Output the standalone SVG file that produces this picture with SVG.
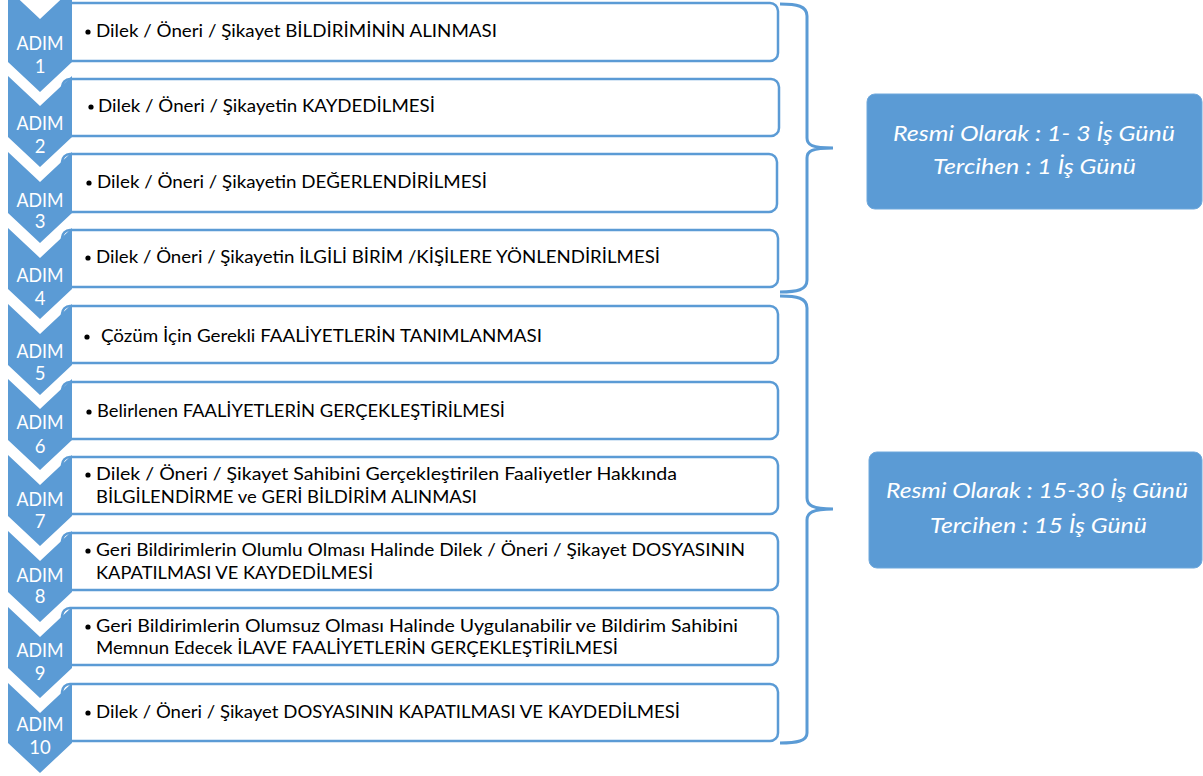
<svg xmlns="http://www.w3.org/2000/svg" width="1203" height="776" viewBox="0 0 1203 776">
<defs>
<style>
.box{fill:#ffffff;stroke:#5B9BD5;stroke-width:2.5}
.chev{fill:#5B9BD5;stroke:none}
.adim{font-family:Lato,"Liberation Sans",sans-serif;font-size:18.5px;fill:#ffffff;text-anchor:middle}
.t{font-family:Lato,"Liberation Sans",sans-serif;font-size:17px;fill:#000000}
.bul{fill:#000000}
.brace{fill:none;stroke:#5B9BD5;stroke-width:3;stroke-linejoin:miter}
.info{fill:#5B9BD5;stroke:#6FA8DC;stroke-width:1}
.it{font-family:Lato,"Liberation Sans",sans-serif;font-size:21.5px;font-style:italic;fill:#ffffff}
</style>
</defs>
<rect width="1203" height="776" fill="#ffffff"/>

<g id="connectors">
<path class="brace" d="M780,4 C797,4 807,6 807,16 L807,138 C807,145 812,148 833,148 C812,148 807,151 807,158 L807,280 C807,290 797,292 780,292"/>
<path class="brace" d="M780,296 C797,296 807,298 807,308 L807,498 C807,505 812,509 833,509 C812,509 807,513 807,520 L807,733 C807,741 797,743 780,743"/>
</g>

<g id="step1">
<rect class="box" x="62" y="3" width="716" height="58" rx="8"/>
<path class="chev" d="M8,-11 L40,19 L72,-11 L72,62 L40,92 L8,62 Z"/>
<text class="adim" x="40" y="50" textLength="47" lengthAdjust="spacingAndGlyphs">ADIM</text>
<text class="adim" x="40" y="73">1</text>
<circle class="bul" cx="88" cy="32" r="2.6"/>
<text class="t" x="96" y="37" textLength="401" lengthAdjust="spacingAndGlyphs">Dilek / Öneri / Şikayet BİLDİRİMİNİN ALINMASI</text>
</g>

<g id="step2">
<rect class="box" x="62" y="79" width="717" height="57" rx="8"/>
<path class="chev" d="M8,76 L40,106 L72,76 L72,137 L40,167 L8,137 Z"/>
<text class="adim" x="40" y="130" textLength="47" lengthAdjust="spacingAndGlyphs">ADIM</text>
<text class="adim" x="40" y="153">2</text>
<circle class="bul" cx="91" cy="107" r="2.6"/>
<text class="t" x="98" y="112" textLength="337" lengthAdjust="spacingAndGlyphs">Dilek / Öneri / Şikayetin KAYDEDİLMESİ</text>
</g>

<g id="step3">
<rect class="box" x="62" y="154" width="715" height="58" rx="8"/>
<path class="chev" d="M8,152 L40,182 L72,152 L72,213 L40,243 L8,213 Z"/>
<text class="adim" x="40" y="207" textLength="47" lengthAdjust="spacingAndGlyphs">ADIM</text>
<text class="adim" x="40" y="228">3</text>
<circle class="bul" cx="89" cy="183" r="2.6"/>
<text class="t" x="97" y="188" textLength="390" lengthAdjust="spacingAndGlyphs">Dilek / Öneri / Şikayetin DEĞERLENDİRİLMESİ</text>
</g>

<g id="step4">
<rect class="box" x="62" y="230" width="716" height="57" rx="8"/>
<path class="chev" d="M8,228 L40,258 L72,228 L72,289 L40,319 L8,289 Z"/>
<text class="adim" x="40" y="282" textLength="47" lengthAdjust="spacingAndGlyphs">ADIM</text>
<text class="adim" x="40" y="305">4</text>
<circle class="bul" cx="88" cy="258" r="2.6"/>
<text class="t" x="96" y="263" textLength="564" lengthAdjust="spacingAndGlyphs">Dilek / Öneri / Şikayetin İLGİLİ BİRİM /KİŞİLERE YÖNLENDİRİLMESİ</text>
</g>

<g id="step5">
<rect class="box" x="62" y="306" width="716" height="57" rx="8"/>
<path class="chev" d="M8,304 L40,334 L72,304 L72,365 L40,395 L8,365 Z"/>
<text class="adim" x="40" y="358" textLength="47" lengthAdjust="spacingAndGlyphs">ADIM</text>
<text class="adim" x="40" y="380">5</text>
<circle class="bul" cx="87" cy="337" r="2.6"/>
<text class="t" x="101" y="342" textLength="441" lengthAdjust="spacingAndGlyphs">Çözüm İçin Gerekli FAALİYETLERİN TANIMLANMASI</text>
</g>

<g id="step6">
<rect class="box" x="62" y="382" width="716" height="57" rx="8"/>
<path class="chev" d="M8,379 L40,409 L72,379 L72,440 L40,470 L8,440 Z"/>
<text class="adim" x="40" y="429" textLength="47" lengthAdjust="spacingAndGlyphs">ADIM</text>
<text class="adim" x="40" y="453">6</text>
<circle class="bul" cx="89" cy="412" r="2.6"/>
<text class="t" x="97" y="417" textLength="408" lengthAdjust="spacingAndGlyphs">Belirlenen FAALİYETLERİN GERÇEKLEŞTİRİLMESİ</text>
</g>

<g id="step7">
<rect class="box" x="62" y="457" width="716" height="57" rx="8"/>
<path class="chev" d="M8,455 L40,485 L72,455 L72,516 L40,546 L8,516 Z"/>
<text class="adim" x="40" y="506" textLength="47" lengthAdjust="spacingAndGlyphs">ADIM</text>
<text class="adim" x="40" y="528">7</text>
<circle class="bul" cx="88" cy="475" r="2.6"/>
<text class="t" x="96" y="480" textLength="581" lengthAdjust="spacingAndGlyphs">Dilek / Öneri / Şikayet Sahibini Gerçekleştirilen Faaliyetler Hakkında</text>
<text class="t" x="96" y="503" textLength="381" lengthAdjust="spacingAndGlyphs">BİLGİLENDİRME ve GERİ BİLDİRİM ALINMASI</text>
</g>

<g id="step8">
<rect class="box" x="62" y="533" width="716" height="57" rx="8"/>
<path class="chev" d="M8,531 L40,561 L72,531 L72,592 L40,622 L8,592 Z"/>
<text class="adim" x="40" y="582" textLength="47" lengthAdjust="spacingAndGlyphs">ADIM</text>
<text class="adim" x="40" y="603">8</text>
<circle class="bul" cx="88" cy="551" r="2.6"/>
<text class="t" x="96" y="556" textLength="649" lengthAdjust="spacingAndGlyphs">Geri Bildirimlerin Olumlu Olması Halinde Dilek / Öneri / Şikayet DOSYASININ</text>
<text class="t" x="96" y="579" textLength="277" lengthAdjust="spacingAndGlyphs">KAPATILMASI VE KAYDEDİLMESİ</text>
</g>

<g id="step9">
<rect class="box" x="62" y="608" width="716" height="57" rx="8"/>
<path class="chev" d="M8,607 L40,637 L72,607 L72,668 L40,698 L8,668 Z"/>
<text class="adim" x="40" y="657" textLength="47" lengthAdjust="spacingAndGlyphs">ADIM</text>
<text class="adim" x="40" y="680">9</text>
<circle class="bul" cx="88" cy="627" r="2.6"/>
<text class="t" x="96" y="632" textLength="642" lengthAdjust="spacingAndGlyphs">Geri Bildirimlerin Olumsuz Olması Halinde Uygulanabilir ve Bildirim Sahibini</text>
<text class="t" x="96" y="654" textLength="522" lengthAdjust="spacingAndGlyphs">Memnun Edecek İLAVE FAALİYETLERİN GERÇEKLEŞTİRİLMESİ</text>
</g>

<g id="step10">
<rect class="box" x="62" y="684" width="716" height="57" rx="8"/>
<path class="chev" d="M8,683 L40,713 L72,683 L72,743 L40,773 L8,743 Z"/>
<text class="adim" x="40" y="731" textLength="47" lengthAdjust="spacingAndGlyphs">ADIM</text>
<text class="adim" x="40" y="754">10</text>
<circle class="bul" cx="88" cy="713" r="2.6"/>
<text class="t" x="96" y="718" textLength="584" lengthAdjust="spacingAndGlyphs">Dilek / Öneri / Şikayet DOSYASININ KAPATILMASI VE KAYDEDİLMESİ</text>
</g>

<g id="duration1">
<rect class="info" x="867" y="94" width="335" height="115" rx="8"/>
<text class="it" x="893" y="141" textLength="282" lengthAdjust="spacingAndGlyphs">Resmi Olarak : 1- 3 İş Günü</text>
<text class="it" x="933" y="174" textLength="203" lengthAdjust="spacingAndGlyphs">Tercihen : 1 İş Günü</text>
</g>

<g id="duration2">
<rect class="info" x="869" y="452" width="333" height="116" rx="8"/>
<text class="it" x="886" y="498" textLength="302" lengthAdjust="spacingAndGlyphs">Resmi Olarak : 15-30 İş Günü</text>
<text class="it" x="930" y="533" textLength="217" lengthAdjust="spacingAndGlyphs">Tercihen : 15 İş Günü</text>
</g>
</svg>
